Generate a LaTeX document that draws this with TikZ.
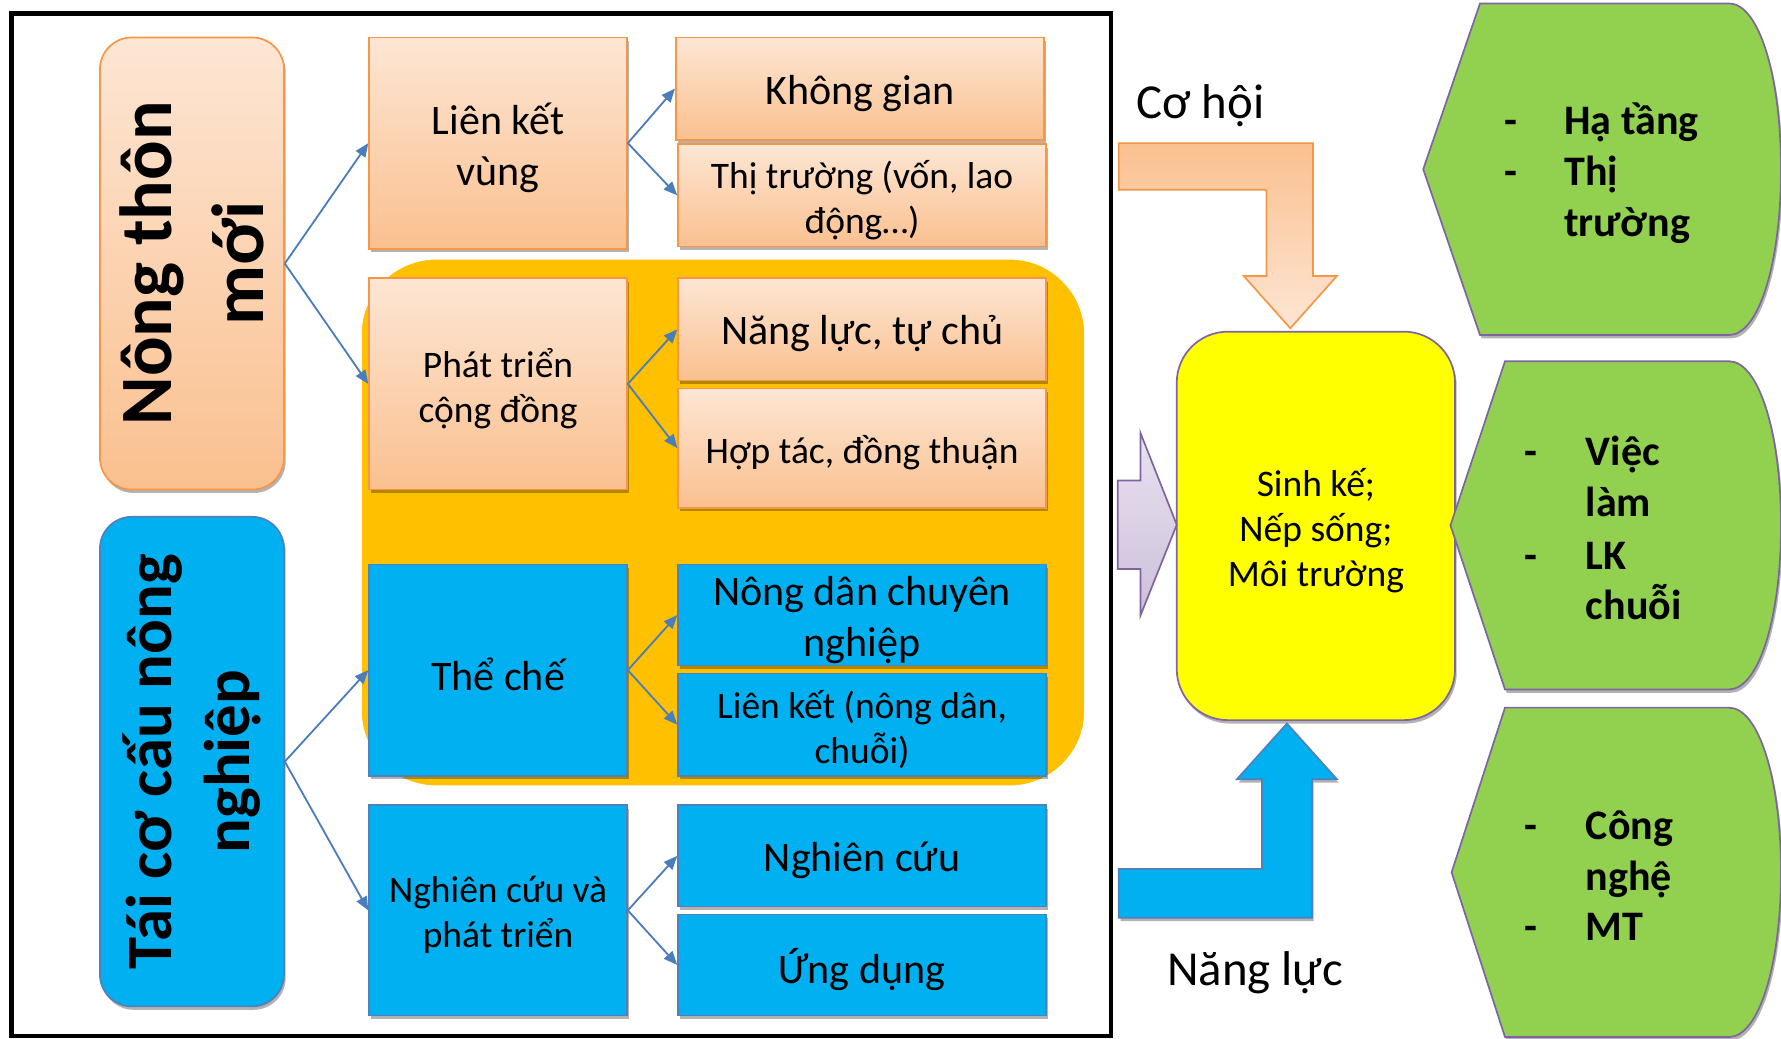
\documentclass[tikz,border=0pt]{standalone}
\usepackage{fontspec}
\setmainfont{Carlito}
\usetikzlibrary{arrows.meta,shadows}
\definecolor{peachL}{HTML}{FDE6D4}
\definecolor{peachD}{HTML}{FAC08F}
\definecolor{orangeB}{HTML}{F79646}
\definecolor{blueF}{HTML}{00B0F0}
\definecolor{blueB}{HTML}{4F81BD}
\definecolor{goldF}{HTML}{FFC000}
\definecolor{yelF}{HTML}{FFFF00}
\definecolor{purpB}{HTML}{8064A2}
\definecolor{greenF}{HTML}{92D050}
\definecolor{lavL}{HTML}{E8E2F0}
\definecolor{lavD}{HTML}{CCC0DA}
\definecolor{connC}{HTML}{4A7EBB}
\tikzset{
  shad/.style={drop shadow={shadow xshift=1.5pt,shadow yshift=-3pt,opacity=0.3,fill=black}},
  peachbox/.style={shad,draw=orangeB,line width=1.5pt,top color=peachL,bottom color=peachD,inner sep=2pt},
  bluebox/.style={shad,draw=blueB,line width=1.5pt,fill=blueF,inner sep=2pt},
  bigbox/.style={minimum width=227pt,minimum height=186pt},
  smallbox/.style={minimum width=324pt,minimum height=90pt},
  fbig/.style={font=\fontsize{37}{45}\selectfont,align=center,yshift=-4pt},
  fmid/.style={font=\fontsize{33}{39.5}\selectfont,align=center,yshift=-4pt},
  conn/.style={draw=connC,line width=1.6pt,-{Triangle[length=12pt,width=10pt]}},
  greenshape/.style={draw=purpB,line width=1.5pt,fill=greenF,shad},
  gtext/.style={font=\fontsize{37}{45}\selectfont\bfseries,anchor=base west,inner sep=0pt},
  gdash/.style={font=\fontsize{37}{45}\selectfont\bfseries,anchor=base,inner sep=0pt},
}
\begin{document}
\begin{tikzpicture}[x=1pt,y=-1pt]
\useasboundingbox (0,0) rectangle (1568,914);
\clip (0,0) rectangle (1568,914);
\fill[white] (0,0) rectangle (1568,914);
% frame
\draw[line width=4pt] (10,12) rectangle (978,912);
% gold region
\filldraw[goldF,draw=white,line width=5pt,rounded corners=68pt,
  drop shadow={shadow xshift=1pt,shadow yshift=-1.5pt,opacity=0.25,fill=black}]
  (316,226) rectangle (957,694);
% left boxes
\node[peachbox,rounded corners=28pt,minimum width=162pt,minimum height=398pt] (ntm) at (169,232) {};
\node[rotate=90,align=center,font=\fontsize{65}{81}\selectfont\bfseries] (ntmt) at (ntm.center) {Nông thôn\\mới};
\node[bluebox,rounded corners=28pt,minimum width=162pt,minimum height=431pt] (tcc) at (169,670.5) {};
\node[rotate=90,align=center,font=\fontsize{57}{69}\selectfont\bfseries] (tcct) at (tcc.center) {Tái cơ cấu nông\\nghiệp};
% middle column boxes
\node[peachbox,bigbox] (lkv) at (438.5,126) {};
\node[peachbox,bigbox] (ptcd) at (438.5,338) {};
\node[bluebox,bigbox] (tc) at (438.5,590) {};
\node[bluebox,bigbox,minimum height=185pt] (ncpt) at (438.5,801.5) {};
% right column boxes
\node[peachbox,smallbox] (kg) at (757,78) {};
\node[peachbox,smallbox] (tt) at (759,172) {};
\node[peachbox,smallbox] (nl) at (759,290) {};
\node[peachbox,smallbox,minimum height=105pt] (ht) at (759,394.5) {};
\node[bluebox,smallbox,minimum height=89pt] (nd) at (759,541.5) {};
\node[bluebox,smallbox] (lk) at (759,638) {};
\node[bluebox,smallbox,minimum height=89pt] (nc) at (759,753.5) {};
\node[bluebox,smallbox,minimum height=89pt] (ud) at (759,849.5) {};
% box texts
\node[fbig] (lkvt) at (lkv.center) {Liên kết\\vùng};
\node[fmid] (ptcdt) at (ptcd.center) {Phát triển\\cộng đồng};
\node[fbig] (tct) at (tc.center) {Thể chế};
\node[fmid] (ncptt) at (ncpt.center) {Nghiên cứu và\\phát triển};
\node[fbig] (kgt) at (kg.center) {Không gian};
\node[fmid] (ttt) at (tt.center) {Thị trường (vốn, lao\\động…)};
\node[fbig] (nlt) at (nl.center) {Năng lực, tự chủ};
\node[fmid] (htt) at (ht.center) {Hợp tác, đồng thuận};
\node[fbig] (ndt) at (nd.center) {Nông dân chuyên\\nghiệp};
\node[fmid] (lkt) at (lk.center) {Liên kết (nông dân,\\chuỗi)};
\node[fbig] (nct) at (nc.center) {Nghiên cứu};
\node[fbig] (udt) at (ud.center) {Ứng dụng};
% connectors
\draw[conn] (ntm.east) -- (lkv.west);
\draw[conn] (ntm.east) -- (ptcd.west);
\draw[conn] (tcc.east) -- (tc.west);
\draw[conn] (tcc.east) -- (ncpt.west);
\draw[conn] (lkv.east) -- (kg.west);
\draw[conn] (lkv.east) -- (tt.west);
\draw[conn] (ptcd.east) -- (nl.west);
\draw[conn] (ptcd.east) -- (ht.west);
\draw[conn] (tc.east) -- (nd.west);
\draw[conn] (tc.east) -- (lk.west);
\draw[conn] (ncpt.east) -- (nc.west);
\draw[conn] (ncpt.east) -- (ud.west);
% centre yellow box
\node[shad,draw=purpB,line width=1.5pt,fill=yelF,rounded corners=45pt,minimum width=245pt,minimum height=342pt] (sk) at (1158.5,463) {};
\node[fmid] (skt) at (sk.center) {Sinh kế;\\Nếp sống;\\Môi trường};
% bent arrows
\filldraw[draw=orangeB,line width=1.5pt,top color=peachD,bottom color=peachL]
  (985,126) -- (1156,126) -- (1156,243) -- (1177,243) -- (1136,289) -- (1095,243) -- (1115,243) -- (1115,167) -- (985,167) -- cycle;
\filldraw[shad,draw=blueB,line width=1.5pt,fill=blueF]
  (985,808) -- (1155,808) -- (1155,686) -- (1177,686) -- (1133,637) -- (1089,686) -- (1111,686) -- (1111,765) -- (985,765) -- cycle;
\filldraw[draw=purpB,line width=1.5pt,top color=lavL,bottom color=lavD]
  (984,423) -- (1004,423) -- (1004,381) -- (1036,462) -- (1004,542) -- (1004,501) -- (984,501) -- cycle;
\node[font=\fontsize{43}{50}\selectfont] (coh) at (1057,93) {Cơ hội};
\node[font=\fontsize{43}{50}\selectfont] (nangluc) at (1105,856) {Năng lực};
% green shapes
\filldraw[greenshape] (1253,149) -- (1303,3) -- (1522,3)
  .. controls (1549,3) and (1568,68) .. (1568,149)
  .. controls (1568,230) and (1549,295) .. (1522,295) -- (1303,295) -- cycle;
\filldraw[greenshape] (1277,462.5) -- (1325,318) -- (1522,318)
  .. controls (1549,318) and (1568,383) .. (1568,462.5)
  .. controls (1568,542) and (1549,607) .. (1522,607) -- (1325,607) -- cycle;
\filldraw[greenshape] (1278,768) -- (1325,623) -- (1522,623)
  .. controls (1549,623) and (1568,688) .. (1568,768)
  .. controls (1568,848) and (1549,913) .. (1522,913) -- (1325,913) -- cycle;
% green texts
\node[gdash] (d1) at (1330,118) {-};
\node[gtext] (g1) at (1377,118) {Hạ tầng};
\node[gdash] (d2) at (1330,163) {-};
\node[gtext] (g2) at (1377,163) {Thị};
\node[gtext] (g3) at (1377,208) {trường};
\node[gdash] (d3) at (1348,410) {-};
\node[gtext] (g4) at (1396,410) {Việc};
\node[gtext] (g5) at (1396,455) {làm};
\node[gdash] (d4) at (1348,501) {-};
\node[gtext] (g6) at (1396,501) {LK};
\node[gtext] (g7) at (1396,545) {chuỗi};
\node[gdash] (d5) at (1348,739) {-};
\node[gtext] (g8) at (1396,739) {Công};
\node[gtext] (g9) at (1396,784) {nghệ};
\node[gdash] (d6) at (1348,828) {-};
\node[gtext] (g10) at (1396,828) {MT};
\end{tikzpicture}
\end{document}
